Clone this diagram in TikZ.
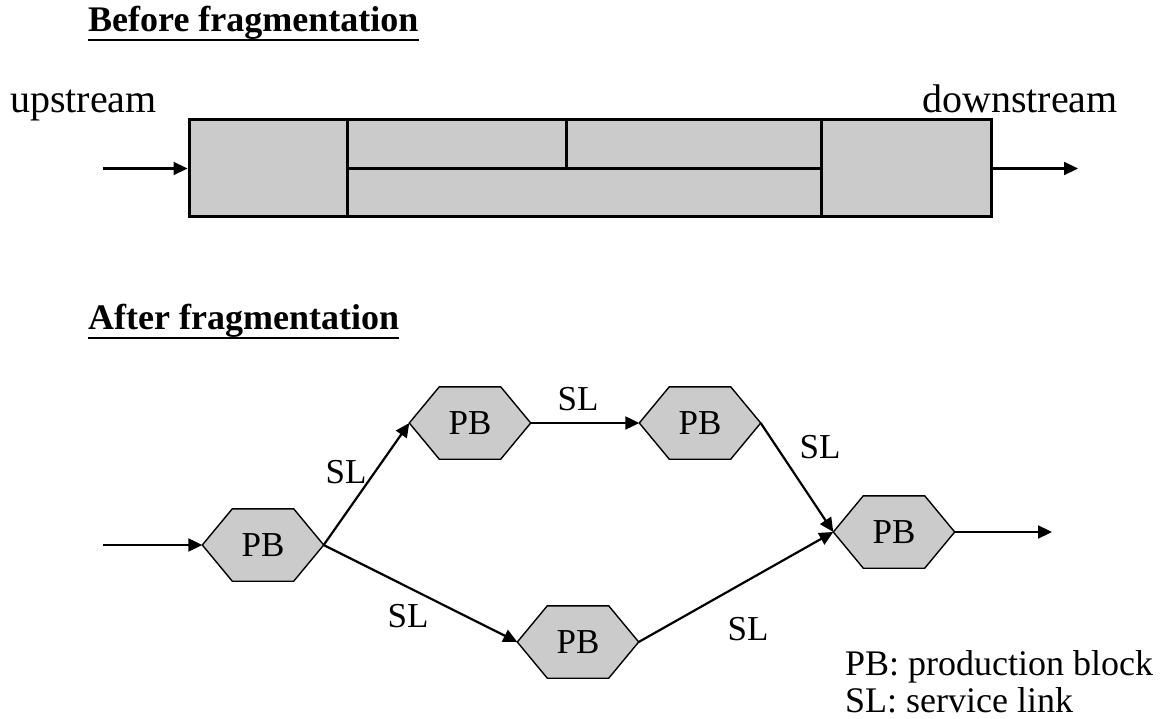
\documentclass[tikz,border=0pt]{standalone}
\usepackage{fontspec}
\setmainfont{Liberation Serif}
\usetikzlibrary{arrows.meta,backgrounds}
\definecolor{blockgray}{HTML}{CBCBCB}
\tikzset{
  arr/.style={line width=2.2pt,-{Triangle[length=14pt,width=13pt]}},
  boxline/.style={line width=3pt},
  hexnode/.style={minimum width=121pt,minimum height=72pt,inner sep=0pt,text depth=0pt,font=\fontsize{35}{40}\selectfont},
  hexshape/.style={draw=black,fill=blockgray,line width=1.4pt,line join=miter},
  title/.style={anchor=base west,inner sep=0pt,font=\fontsize{36}{42}\selectfont\bfseries},
  ul/.style={line width=2.4pt},
  plain/.style={anchor=base west,inner sep=0pt,font=\fontsize{40}{46}\selectfont},
  sl/.style={anchor=base,inner sep=0pt,font=\fontsize{35}{40}\selectfont},
  legend/.style={anchor=base west,inner sep=0pt,font=\fontsize{36}{42}\selectfont}
}
\newcommand\hexoutline[1]{%
  \begin{pgfonlayer}{background}
    \draw[hexshape] (#1.west) -- ([xshift=30pt]#1.north west) -- ([xshift=-30pt]#1.north east)
      -- (#1.east) -- ([xshift=-30pt]#1.south east) -- ([xshift=30pt]#1.south west) -- cycle;
  \end{pgfonlayer}}
\begin{document}
\begin{tikzpicture}[x=1pt,y=-1pt]
\useasboundingbox (0,0) rectangle (1165,719);
% titles
\node[title] (t1) at (88,32) {Before fragmentation};
\draw[ul] ([yshift=-8pt]t1.base west) -- ([yshift=-8pt]t1.base east);
\node[title] (t2) at (88,330) {After fragmentation};
\draw[ul] ([yshift=-8pt]t2.base west) -- ([yshift=-8pt]t2.base east);
% before
\node[plain] (up) at (10,113) {upstream};
\node[plain] (down) at (922,113) {downstream};
\node[draw,boxline,fill=blockgray,minimum width=802pt,minimum height=97pt,inner sep=0pt] (box) at (590,168.5) {};
\draw[boxline] (347,120) -- (347,217);
\draw[boxline] (821,120) -- (821,217);
\draw[boxline] (347,169) -- (821,169);
\draw[boxline] (566,120) -- (566,169);
\coordinate (inA) at (103,168.5);
\coordinate (outA) at (1078,168.5);
\draw[arr] (inA) -- (box.west);
\draw[arr] (box.east) -- (outA);
% after
\node[hexnode] (h1) at (263,545) {PB};
\node[hexnode] (h2) at (470,423) {PB};
\node[hexnode] (h3) at (700,423) {PB};
\node[hexnode] (h4) at (578,642) {PB};
\node[hexnode] (h5) at (894,532) {PB};
\hexoutline{h1}\hexoutline{h2}\hexoutline{h3}\hexoutline{h4}\hexoutline{h5}
\coordinate (inB) at (103,545);
\coordinate (outB) at (1052,532);
\draw[arr] (inB) -- (h1.west);
\draw[arr] (h1.east) -- (h2.west);
\draw[arr] (h1.east) -- (h4.west);
\draw[arr] (h2.east) -- (h3.west);
\draw[arr] (h3.east) -- (h5.west);
\draw[arr] (h4.east) -- (h5.west);
\draw[arr] (h5.east) -- (outB);
\node[sl] (sl1) at (346,483) {SL};
\node[sl] (sl2) at (578,410) {SL};
\node[sl] (sl3) at (820,458) {SL};
\node[sl] (sl4) at (408,627) {SL};
\node[sl] (sl5) at (748,640) {SL};
\node[legend] (lg1) at (845,675) {PB: production block};
\node[legend] (lg2) at (845,712) {SL: service link};
\end{tikzpicture}
\end{document}
